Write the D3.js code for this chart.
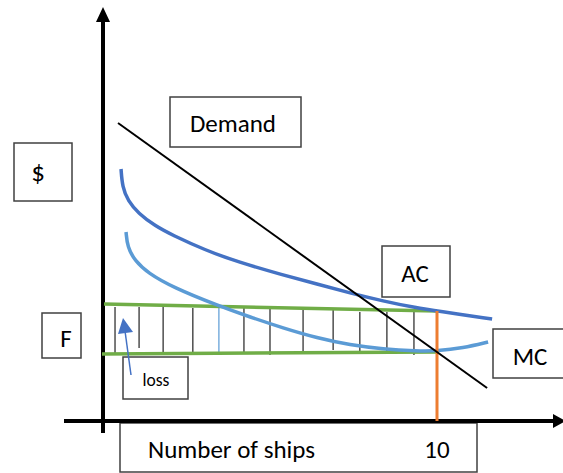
<!DOCTYPE html>
<html>
<head>
<meta charset="utf-8">
<script src="https://cdn.jsdelivr.net/npm/d3@7"></script>
<style>
  html, body { margin: 0; padding: 0; background: #fff; }
  svg { display: block; }
  text { font-family: Carlito, Calibri, Lato, "Open Sans", sans-serif; fill: #000; }
</style>
</head>
<body>
<svg id="chart" width="563" height="473"></svg>
<script>
// ---------- DATA (quantity of ships, price in $) ----------
const demandQ = [0.45, 11.5];
const demandP = [74.5, 8.25];

const acQ = [0.54, 0.58, 0.75, 1.05, 1.56, 2.07, 3.05, 4.04, 5.39, 6.41, 7.40, 8.38, 9.40, 10.0, 11.65];
const acP = [63.0, 58.5, 55.0, 52.0, 48.75, 46.5, 42.75, 39.75, 36.5, 34.25, 32.0, 30.0, 28.25, 27.5, 25.5];

const mcQ = [0.69, 0.73, 0.96, 1.35, 2.07, 3.47, 4.40, 5.39, 6.41, 7.40, 8.38, 9.40, 10.0, 10.78, 11.53];
const mcP = [47.25, 43.5, 40.0, 37.0, 33.5, 28.75, 26.0, 23.25, 20.75, 19.0, 18.0, 17.5, 17.5, 18.25, 19.75];

const priceLineQ = [0.03, 10.0];     // upper green line (price F)
const priceLineP = [29.25, 27.5];
const costLineQ = [-0.03, 10.0];     // lower green line
const costLineP = [16.75, 17.25];

const outputQ = 10;                   // orange output line
const outputTop = 27.5;

const hatchQ = [0.36, 1.08, 1.80, 2.69, 3.47, 4.22, 5.0, 5.99, 6.89, 7.69, 8.50, 9.31];
const hatchTop = [28.5, 28.5, 28.5, 28.25, 28.25, 28.25, 28.25, 28.0, 27.75, 27.25, 27.25, 27.25];
const hatchBottom = [17.0, 18.25, 17.25, 17.25, 17.25, 17.0, 16.5, 17.5, 17.75, 17.0, 17.0, 16.5];

const xTickValues = [10];
const xTickLabels = ["10"];

const labelTexts = ["Demand", "$", "AC", "F", "MC", "loss", "Number of ships"];

// ---------- LAYOUT ----------
const svg = d3.select("#chart");
const x = d3.scaleLinear().domain([0, 10]).range([103, 437]);
const y = d3.scaleLinear().domain([0, 100]).range([421, 21]);

const colors = {
  ac: "#4472C4", mc: "#5B9BD5", green: "#70AD47", orange: "#ED7D31",
  box: "#404040", arrow: "#4472C4"
};

// label boxes: [x0, y0, x1, y1, textX, textY, fontSize, anchor]
const labelLayout = [
  [170, 97, 301, 147, 233, 123, 25, "middle"],
  [14, 143, 72, 201, 38, 171, 27, "middle"],
  [382, 246, 450, 297, 415, 273, 25, "middle"],
  [42, 313, 81, 358, 66, 338, 25, "middle"],
  [493, 329, 568, 378, 530, 356, 25, "middle"],
  [123, 357, 188, 399, 156, 380, 17.5, "middle"],
  [120, 423, 477, 472, 148, 449, 25, "start"]
];

// boxes
labelLayout.forEach((b, i) => {
  svg.append("rect")
    .attr("x", b[0]).attr("y", b[1])
    .attr("width", b[2] - b[0]).attr("height", b[3] - b[1])
    .attr("fill", i === 5 ? "none" : "#fff")
    .attr("stroke", colors.box).attr("stroke-width", 1.5);
  svg.append("text")
    .attr("x", b[4]).attr("y", b[5])
    .attr("text-anchor", b[7]).attr("dominant-baseline", "central")
    .attr("font-size", b[6])
    .text(labelTexts[i]);
});

// x tick label(s)
xTickValues.forEach((v, i) => {
  svg.append("text")
    .attr("x", x(v)).attr("y", 449)
    .attr("text-anchor", "middle").attr("dominant-baseline", "central")
    .attr("font-size", 25)
    .text(xTickLabels[i]);
});

// axes
const xAxisStart = x.invert(64), xAxisEnd = x.invert(566);
const yAxisBottom = y.invert(433), yAxisTop = y.invert(7);

svg.append("line")
  .attr("x1", x(xAxisStart)).attr("x2", x(xAxisEnd) - 10)
  .attr("y1", y(0)).attr("y2", y(0))
  .attr("stroke", "#000").attr("stroke-width", 4);
svg.append("path")
  .attr("d", `M${x(xAxisEnd)},${y(0)} L${x(xAxisEnd) - 13},${y(0) - 7} L${x(xAxisEnd) - 13},${y(0) + 7} Z`)
  .attr("fill", "#000");

svg.append("line")
  .attr("x1", x(0)).attr("x2", x(0))
  .attr("y1", y(yAxisBottom)).attr("y2", y(yAxisTop) + 12)
  .attr("stroke", "#000").attr("stroke-width", 4);
svg.append("path")
  .attr("d", `M${x(0)},${y(yAxisTop)} L${x(0) - 7},${y(yAxisTop) + 15} L${x(0) + 7},${y(yAxisTop) + 15} Z`)
  .attr("fill", "#000");

// hatch lines
hatchQ.forEach((q, i) => {
  svg.append("line")
    .attr("x1", x(q)).attr("x2", x(q))
    .attr("y1", y(hatchTop[i])).attr("y2", y(hatchBottom[i]))
    .attr("stroke", i === 4 ? colors.mc : "#222")
    .attr("stroke-width", 1.2);
});

const curve = d3.line().x(d => x(d[0])).y(d => y(d[1])).curve(d3.curveBasis);
const straight = d3.line().x(d => x(d[0])).y(d => y(d[1]));

// green lines
svg.append("path").attr("d", straight(d3.zip(priceLineQ, priceLineP)))
  .attr("fill", "none").attr("stroke", colors.green).attr("stroke-width", 3.5);
svg.append("path").attr("d", straight(d3.zip(costLineQ, costLineP)))
  .attr("fill", "none").attr("stroke", colors.green).attr("stroke-width", 3.5);

// MC and AC curves
svg.append("path").attr("d", curve(d3.zip(mcQ, mcP)))
  .attr("fill", "none").attr("stroke", colors.mc).attr("stroke-width", 3.5);
svg.append("path").attr("d", curve(d3.zip(acQ, acP)))
  .attr("fill", "none").attr("stroke", colors.ac).attr("stroke-width", 3.5);

// orange output line
svg.append("line")
  .attr("x1", x(outputQ)).attr("x2", x(outputQ))
  .attr("y1", y(outputTop)).attr("y2", y(0))
  .attr("stroke", colors.orange).attr("stroke-width", 3);

// demand
svg.append("path").attr("d", straight(d3.zip(demandQ, demandP)))
  .attr("fill", "none").attr("stroke", "#000").attr("stroke-width", 2);

// loss arrow
svg.append("line")
  .attr("x1", 131).attr("y1", 375).attr("x2", 125).attr("y2", 331)
  .attr("stroke", colors.arrow).attr("stroke-width", 1.5);
svg.append("path")
  .attr("d", "M123,318 L118,334 L133,332 Z")
  .attr("fill", colors.arrow);
</script>
</body>
</html>
